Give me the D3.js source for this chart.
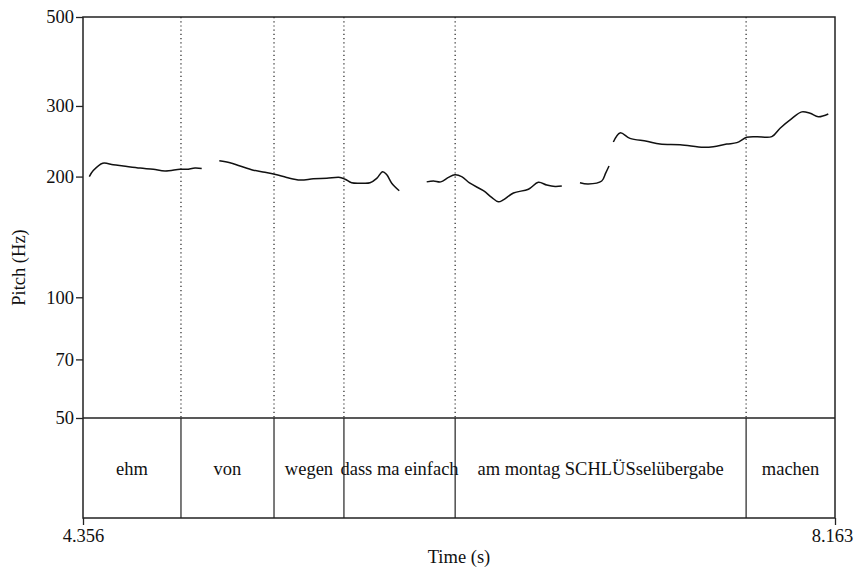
<!DOCTYPE html>
<html><head><meta charset="utf-8">
<script src="https://cdn.jsdelivr.net/npm/d3@7"></script>
<style>body{margin:0;background:#fff}svg{display:block}text{font-family:"Liberation Serif","Times New Roman",serif;fill:#111}</style>
</head><body>
<svg id="c" width="855" height="568"></svg>
<script>
const timeRange = [4.356, 8.163];
const pitchTicks = [50, 70, 100, 200, 300, 500];
const timeTickLabels = ["4.356", "8.163"];
const boundaries = [4.852, 5.323, 5.677, 6.240, 7.713];
const tierLabels = ["ehm", "von", "wegen", "dass ma einfach", "am montag SCHLÜSselübergabe", "machen"];

const seg1 = [[4.388,200],[4.408,207],[4.456,216],[4.509,214],[4.560,212.5],[4.645,210],[4.712,208.5],[4.771,206.5],[4.847,208.5],[4.881,208.5],[4.923,210],[4.957,209.5]];
const seg2 = [[5.046,219],[5.100,216.5],[5.151,212.5],[5.218,207.5],[5.277,205],[5.337,202],[5.387,199],[5.455,196],[5.522,197.5],[5.590,198],[5.657,199],[5.683,197],[5.716,193],[5.767,192.5],[5.809,193],[5.843,198],[5.873,205.7],[5.894,202],[5.919,192.5],[5.957,184.4]];
const seg3 = [[6.096,194],[6.130,195],[6.167,194],[6.206,199],[6.239,202],[6.273,200],[6.315,192.5],[6.383,184.4],[6.425,177.5],[6.459,173],[6.484,175],[6.535,182],[6.611,186],[6.661,193.5],[6.704,190.5],[6.746,189],[6.780,189.5]];
const seg4 = [[6.872,193],[6.914,191.7],[6.982,195],[7.002,204],[7.019,212.5]];
const seg5 = [[7.041,244],[7.075,257],[7.125,249],[7.210,245],[7.277,241],[7.379,240],[7.497,236.6],[7.547,237.4],[7.615,241],[7.666,243],[7.716,250.6],[7.767,251.5],[7.843,251.5],[7.885,264],[7.944,279],[7.995,290],[8.037,287.6],[8.079,282],[8.129,286.5]];
const segments = [seg1, seg2, seg3, seg4, seg5];

const L = 83, R = 835, T = 17, M = 418, B = 518;
const FS = 18.5;
const svg = d3.select("#c");
const x = d3.scaleLinear().domain(timeRange).range([L, R]);
const y = d3.scaleLog().domain([50, 500]).range([M, T]);
const stroke = "#222";

// dotted boundary lines in pitch area
svg.selectAll("line.dot").data(boundaries).join("line")
  .attr("x1", d => x(d)).attr("x2", d => x(d)).attr("y1", T).attr("y2", M)
  .attr("stroke", stroke).attr("stroke-width", 1.2).attr("stroke-dasharray", "1.2,3");

// pitch contour
const line = d3.line().x(d => x(d[0])).y(d => y(d[1])).curve(d3.curveCatmullRom.alpha(0.5));
svg.selectAll("path.pitch").data(segments).join("path")
  .attr("d", line).attr("fill", "none").attr("stroke", "#111").attr("stroke-width", 1.5);

// tier boundaries
svg.selectAll("line.tb").data(boundaries).join("line")
  .attr("x1", d => x(d)).attr("x2", d => x(d)).attr("y1", M).attr("y2", B)
  .attr("stroke", stroke).attr("stroke-width", 1.2);

// tier labels
const edges = [timeRange[0], ...boundaries, timeRange[1]];
svg.selectAll("text.tl").data(tierLabels).join("text")
  .attr("x", (d, i) => (x(edges[i]) + x(edges[i + 1])) / 2).attr("y", 475)
  .attr("text-anchor", "middle").attr("font-size", FS).text(d => d);

// frame
svg.append("rect").attr("x", L).attr("y", T).attr("width", R - L).attr("height", B - T)
  .attr("fill", "none").attr("stroke", stroke).attr("stroke-width", 1.5);
svg.append("line").attr("x1", L).attr("x2", R).attr("y1", M).attr("y2", M)
  .attr("stroke", stroke).attr("stroke-width", 1.5);

// y axis
const yAxis = d3.axisLeft(y).tickValues(pitchTicks).tickFormat(d3.format("d")).tickSize(7).tickPadding(2);
const gy = svg.append("g").attr("transform", `translate(${L},0)`).call(yAxis);
gy.select(".domain").remove();
gy.selectAll("line").attr("stroke", stroke).attr("stroke-width", 1.3);
gy.selectAll("text").attr("font-size", FS).attr("font-family", "Liberation Serif").attr("fill", "#111");

// x axis ticks at ends
const xAxis = d3.axisBottom(x).tickValues(timeRange).tickFormat((d, i) => timeTickLabels[i]).tickSize(7).tickPadding(4);
const gx = svg.append("g").attr("transform", `translate(0,${B})`).call(xAxis);
gx.select(".domain").remove();
gx.selectAll("line").attr("stroke", stroke).attr("stroke-width", 1.3);
gx.selectAll("text").attr("font-size", FS).attr("font-family", "Liberation Serif").attr("fill", "#111");
gx.selectAll("g.tick").filter((d, i) => i === 1).select("text").attr("dx", -3);

// axis titles
svg.append("text").attr("x", (L + R) / 2).attr("y", 563).attr("text-anchor", "middle").attr("font-size", FS).text("Time (s)");
svg.append("text").attr("transform", `translate(25,${(T + B) / 2}) rotate(-90)`).attr("text-anchor", "middle").attr("font-size", FS).text("Pitch (Hz)");
</script>
</body></html>
